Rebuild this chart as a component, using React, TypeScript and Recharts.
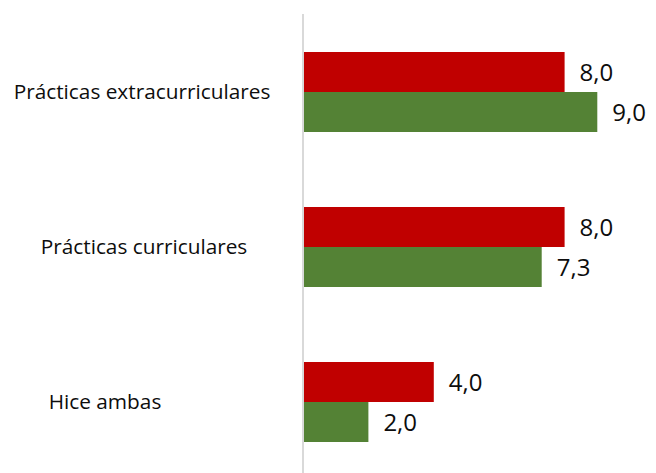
import React from "react";
import { BarChart, Bar, XAxis, YAxis, LabelList } from "recharts";

const categories = ["Prácticas extracurriculares", "Prácticas curriculares", "Hice ambas"];
const redValues = [8.0, 8.0, 4.0];
const greenValues = [9.0, 7.3, 2.0];

const data = categories.map((c, i) => ({ name: c, red: redValues[i], green: greenValues[i] }));

const FONT = "'Open Sans', sans-serif";
const tickCenters = [142, 144, 105];

const CategoryTick = (props: any) => {
  const { y, payload, index } = props;
  return (
    <text
      x={tickCenters[index] ?? 142}
      y={y}
      dy="0.35em"
      textAnchor="middle"
      fontFamily={FONT}
      fontSize={20.8}
      fill="#0d0d0d"
    >
      {payload.value}
    </text>
  );
};

const fmt = (v: any) => Number(v).toFixed(1).replace(".", ",");

export default function App() {
  return (
    <div style={{ position: "absolute", left: 0, top: 0, width: 656, height: 473, overflow: "hidden", background: "#fff" }}>
      <BarChart
        width={656}
        height={490}
        data={data}
        layout="vertical"
        margin={{ top: 14, right: 26, bottom: 11, left: 0 }}
        barGap={0}
        barSize={40}
      >
        <XAxis type="number" domain={[0, 10]} hide />
        <YAxis
          type="category"
          dataKey="name"
          width={303}
          axisLine={{ stroke: "#d9d9d9", strokeWidth: 2 }}
          tickLine={false}
          tick={<CategoryTick />}
          interval={0}
        />
        <Bar dataKey="red" fill="#c00000" isAnimationActive={false}>
          <LabelList dataKey="red" position="right" offset={15} formatter={fmt} fill="#0d0d0d" fontSize={24} fontFamily={FONT} />
        </Bar>
        <Bar dataKey="green" fill="#548235" isAnimationActive={false}>
          <LabelList dataKey="green" position="right" offset={15} formatter={fmt} fill="#0d0d0d" fontSize={24} fontFamily={FONT} />
        </Bar>
      </BarChart>
    </div>
  );
}
